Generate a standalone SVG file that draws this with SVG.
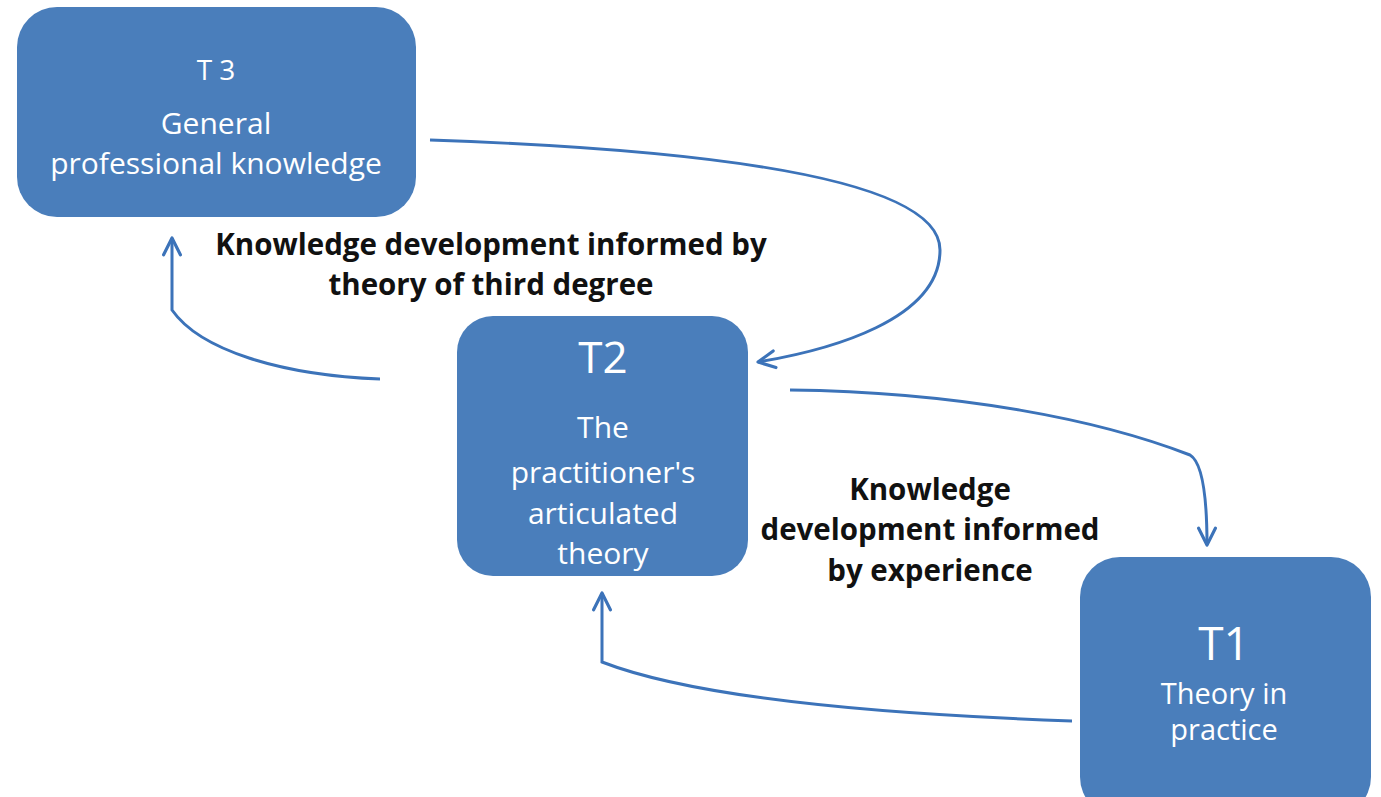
<svg xmlns="http://www.w3.org/2000/svg" width="1381" height="797" viewBox="0 0 1381 797">
<style>
.box{fill:#4a7ebb;}
.nt{fill:#ffffff;font-family:"Open Sans","Liberation Sans",sans-serif;text-anchor:middle;}
.lb{fill:#111111;font-family:"Open Sans","Liberation Sans",sans-serif;font-weight:bold;text-anchor:middle;font-size:29.5px;}
.con{fill:none;stroke:#3c73b9;stroke-width:3;marker-end:url(#arr);}
</style>
<defs>
<marker id="arr" viewBox="0 0 20 20" refX="18" refY="10" markerWidth="7" markerHeight="7" markerUnits="strokeWidth" orient="auto">
<path d="M2,2 L18,10 L2,18" fill="none" stroke="#3c73b9" stroke-width="3" stroke-linecap="round" stroke-linejoin="round"/>
</marker>
</defs>
<rect width="1381" height="797" fill="#ffffff"/>
<g id="connectors">
<path class="con" d="M430,140 C 720,150 940,180 940,250 C 940,320 830,350 758,362"/>
<path class="con" d="M790,390 C 960,392 1100,420 1190,455 Q1207,465 1207,545"/>
<path class="con" d="M1072,721 C 900,715 700,700 602,662 L602,593"/>
<path class="con" d="M380,379 C 280,375 200,350 172,310 L172,238"/>
</g>
<g id="t3">
<rect class="box" x="17" y="7" width="399" height="210" rx="40"/>
<text class="nt" x="216" y="80" font-size="28">T 3</text>
<text class="nt" x="216" y="134" font-size="30">General</text>
<text class="nt" x="216" y="174" font-size="30">professional knowledge</text>
</g>
<g id="t2">
<rect class="box" x="457" y="316" width="291" height="260" rx="36"/>
<text class="nt" x="603" y="373" font-size="44">T2</text>
<text class="nt" x="603" y="438" font-size="30">The</text>
<text class="nt" x="603" y="483" font-size="30">practitioner's</text>
<text class="nt" x="603" y="524" font-size="30">articulated</text>
<text class="nt" x="603" y="564" font-size="30">theory</text>
</g>
<g id="t1">
<rect class="box" x="1080" y="557" width="291" height="260" rx="40"/>
<text class="nt" x="1224" y="660" font-size="46">T1</text>
<text class="nt" x="1224" y="704" font-size="29">Theory in</text>
<text class="nt" x="1224" y="740" font-size="29">practice</text>
</g>
<g id="label1">
<text class="lb" x="491" y="255">Knowledge development informed by</text>
<text class="lb" x="491" y="295">theory of third degree</text>
</g>
<g id="label2">
<text class="lb" x="930" y="500">Knowledge</text>
<text class="lb" x="930" y="540">development informed</text>
<text class="lb" x="930" y="581">by experience</text>
</g>
</svg>
